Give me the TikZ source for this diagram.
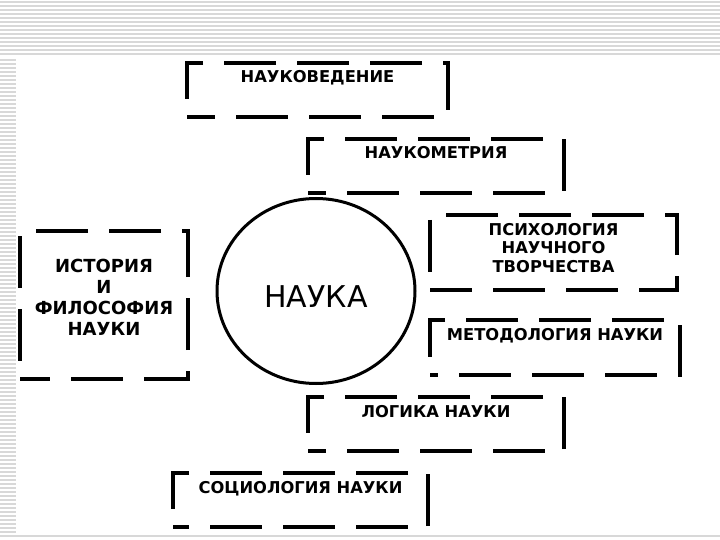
\documentclass[tikz,border=0pt]{standalone}
\usepackage{fontspec}
\setmainfont{DejaVu Sans}
\usetikzlibrary{shapes,positioning}
\definecolor{stripegray}{RGB}{216,216,216}

\begin{document}
\begin{tikzpicture}[
    x=1pt, y=-1pt,
    dbox/.style={rectangle, draw=black, line width=3.5pt, dash pattern=on 52pt off 21pt, inner sep=0pt, font=\fontsize{16.3}{19}\selectfont\bfseries, align=center},
    oneline/.style={dbox, minimum width=256pt, text height=20pt, text depth=34pt},
    core/.style={ellipse, draw=black, line width=3pt, minimum width=198pt, minimum height=185pt, inner sep=0pt, font=\fontsize{30}{36}\selectfont, text height=33pt},
    stripe/.style={draw=stripegray, line width=1.6pt}
]
\useasboundingbox (0,0) rectangle (720,540);

% background stripes
\foreach \yy in {2,6,...,56} \draw[stripe] (0,\yy) -- (720,\yy);
\foreach \yy in {60,64,...,532} \draw[stripe] (0,\yy) -- (16,\yy);
\draw[stripe, line width=1.2pt] (0,536) -- (720,536);

\node[core] (nauka) at (316,291) {НАУКА};

% dash phase per box so that each starts with the top-left corner piece
\node[oneline, minimum width=261pt, dash phase=24pt] (naukoved) at (317.5,90) {НАУКОВЕДЕНИЕ};
\node[oneline, dash phase=34pt] (naukomet) at (436,166) {НАУКОМЕТРИЯ};
\node[dbox, minimum width=168pt, minimum height=148pt, text depth=16pt, dash phase=22pt,
      font=\fontsize{18}{21}\selectfont\bfseries] (istoria) at (104,305) {ИСТОРИЯ\\И\\ФИЛОСОФИЯ\\НАУКИ};
\node[dbox, minimum width=247pt, minimum height=75pt, text depth=10pt, dash phase=10pt,
      font=\fontsize{16.3}{18.5}\selectfont\bfseries] (psych) at (553.5,252.5) {ПСИХОЛОГИЯ\\НАУЧНОГО\\ТВОРЧЕСТВА};
\node[oneline, minimum width=250pt, text depth=35pt, dash phase=44pt] (metod) at (555,347.5) {МЕТОДОЛОГИЯ НАУКИ};
\node[oneline, dash phase=34pt] (logika) at (436,424) {ЛОГИКА НАУКИ};
\node[oneline, minimum width=255pt, dash phase=36pt] (sociol) at (300.5,500) {СОЦИОЛОГИЯ НАУКИ};

\end{tikzpicture}
\end{document}
